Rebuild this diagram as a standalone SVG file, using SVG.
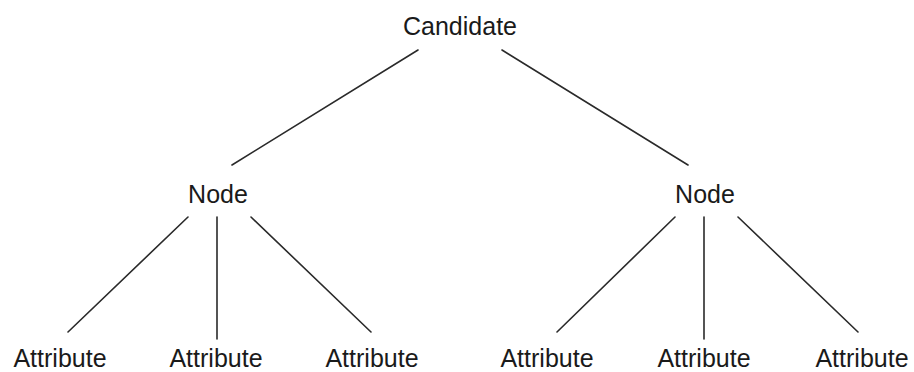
<svg xmlns="http://www.w3.org/2000/svg" width="914" height="372" viewBox="0 0 914 372">
<style>
text{font-family:"Liberation Sans",Arial,sans-serif;font-size:25px;fill:#1a1a1a;text-anchor:middle}
.c line{stroke:#2a2a2a;stroke-width:1.6;stroke-linecap:round}
</style>
<rect width="914" height="372" fill="#fff"/>
<g class="c" id="connectors">
<line x1="418" y1="50" x2="232" y2="165"/>
<line x1="502" y1="50" x2="688" y2="165"/>
<line x1="188" y1="217" x2="68" y2="332"/>
<line x1="217" y1="217" x2="217" y2="339"/>
<line x1="251" y1="217" x2="371" y2="332"/>
<line x1="675" y1="217" x2="557" y2="332"/>
<line x1="704" y1="217" x2="704" y2="339"/>
<line x1="738" y1="217" x2="858" y2="332"/>
</g>
<g id="candidate"><text x="460" y="35">Candidate</text></g>
<g id="node1"><text x="218" y="203">Node</text></g>
<g id="node2"><text x="705" y="203">Node</text></g>
<g id="attr1"><text x="60" y="367">Attribute</text></g>
<g id="attr2"><text x="216" y="367">Attribute</text></g>
<g id="attr3"><text x="372" y="367">Attribute</text></g>
<g id="attr4"><text x="547" y="367">Attribute</text></g>
<g id="attr5"><text x="704" y="367">Attribute</text></g>
<g id="attr6"><text x="862" y="367">Attribute</text></g>
</svg>
